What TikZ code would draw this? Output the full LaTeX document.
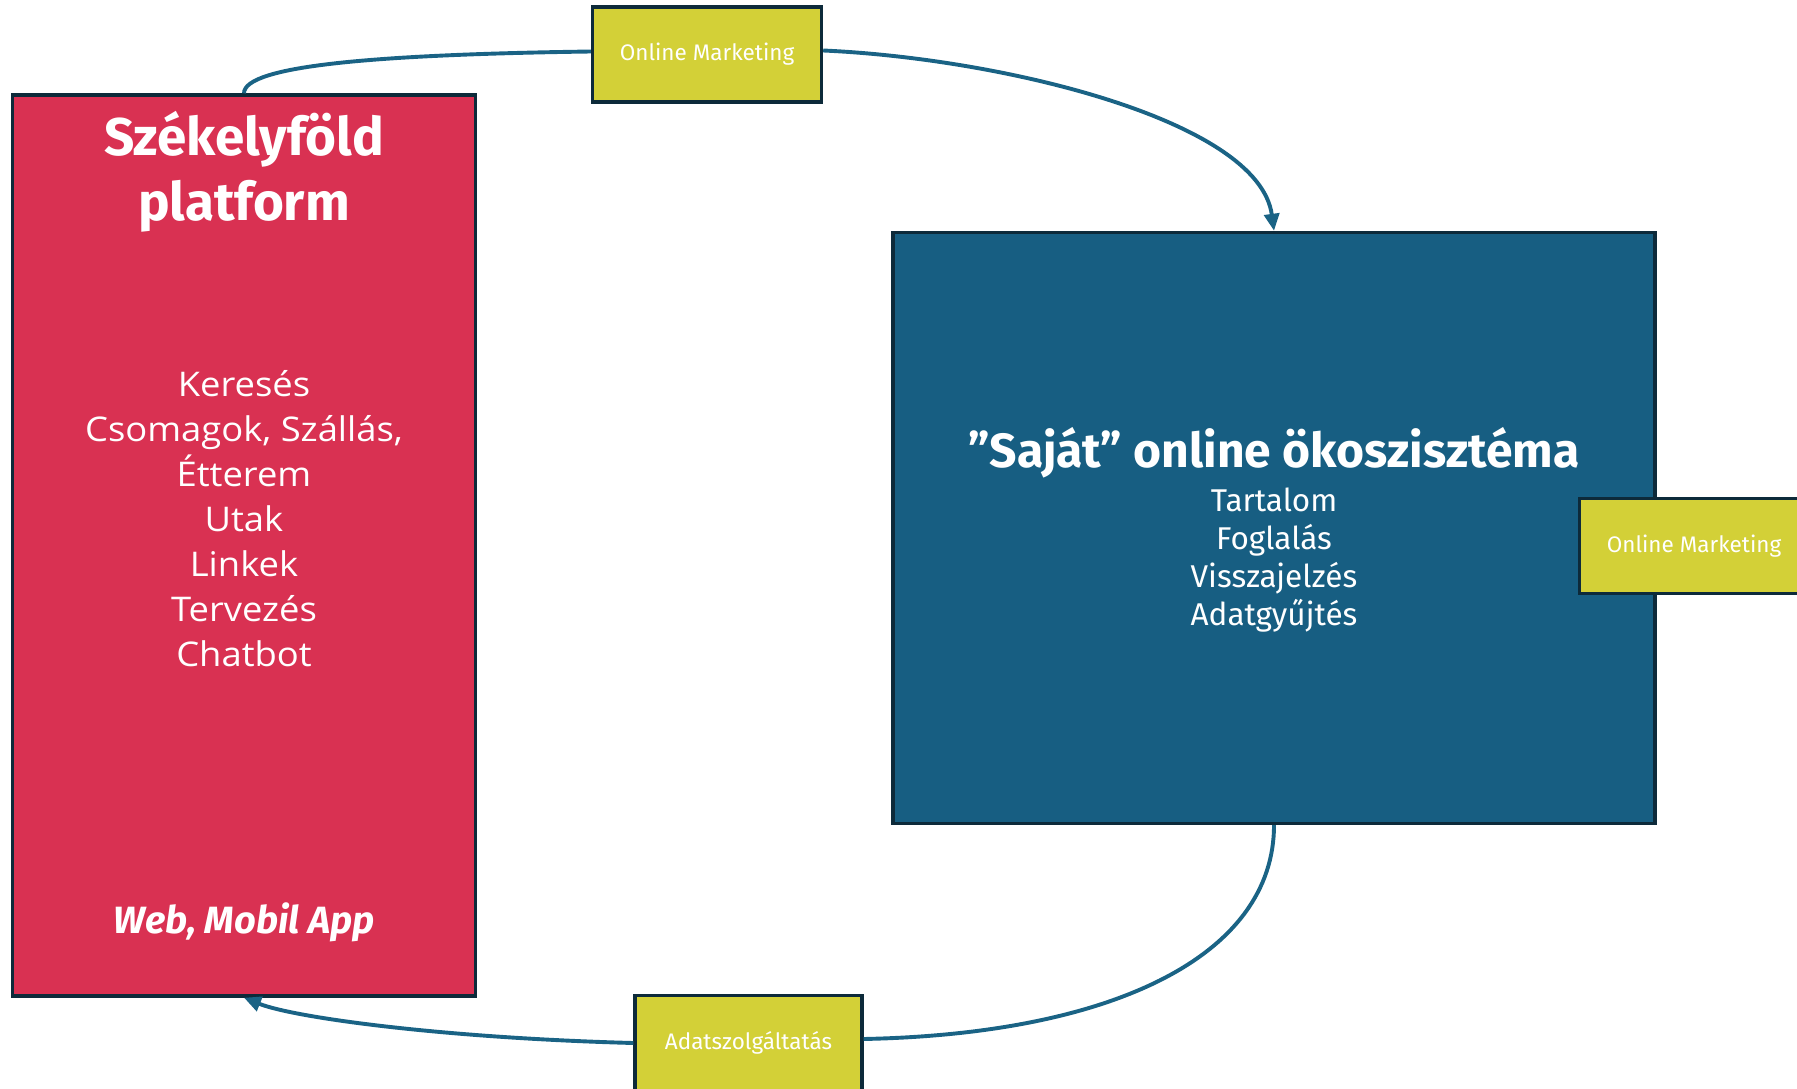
\documentclass[tikz,border=0pt]{standalone}
\usepackage{fontspec}
\setmainfont{Open Sans}
\newfontfamily\listfont[FakeStretch=1.07]{Open Sans}
\newfontfamily\condfont{Fira Sans}
\usetikzlibrary{arrows.meta}

\definecolor{platred}{HTML}{D93152}
\definecolor{ecoblue}{HTML}{175E82}
\definecolor{tagyellow}{HTML}{D3D037}
\definecolor{edgedark}{HTML}{0D2A3A}
\definecolor{flowblue}{HTML}{1A6385}

\tikzset{
  panel/.style={draw=edgedark, line width=3.4pt, inner sep=0pt},
  tag/.style={panel, fill=tagyellow, minimum width=229pt, minimum height=95pt,
    text=white, font=\condfont\fontsize{22.5}{27}\selectfont},
  label/.style={text=white, align=center, inner sep=0pt},
  flow/.style={draw=flowblue, line width=3.9pt},
  tip/.style={-{Triangle[length=17pt,width=15pt]}}
}

\begin{document}
\begin{tikzpicture}[x=1pt,y=1pt]
  \useasboundingbox (0,0) rectangle (1797,-1089);

  % main panels
  \node[panel, fill=platred, minimum width=463pt, minimum height=901pt] (plat) at (244,-545.5) {};
  \node[panel, fill=ecoblue, minimum width=762pt, minimum height=591pt] (eco) at (1274,-528) {};

  % platform texts
  \node[label, font=\condfont\bfseries\fontsize{53}{65}\selectfont] (plattitle) at (244,-172) {Székelyföld\\platform};
  \node[label, font=\listfont\fontsize{34}{45}\selectfont] (platlist) at (244,-519)
    {Keresés\\Csomagok, Szállás,\\Étterem\\Utak\\Linkek\\Tervezés\\Chatbot};
  \node[label, font=\condfont\bfseries\itshape\fontsize{38}{44}\selectfont] (platweb) at (244,-922) {Web, Mobil App};

  % ecosystem texts
  \node[label, font=\condfont\bfseries\fontsize{48}{56}\selectfont] (ecotitle) at (1274,-453) {”Saját” online ökoszisztéma};
  \node[label, font=\condfont\fontsize{31.5}{38}\selectfont] (ecolist) at (1274,-560)
    {Tartalom\\Foglalás\\Visszajelzés\\Adatgyűjtés};

  % channel tags
  \node[tag] (mktop) at (707,-54.5) {Online Marketing};
  \node[tag] (mkright) at (1694,-546) {Online Marketing};
  \node[tag, minimum width=227pt] (data) at (748.5,-1043) {Adatszolgáltatás};

  % flows
  \draw[flow] (plat.north) .. controls +(0,28) and +(-212,-3) .. ([yshift=3pt]mktop.west);
  \draw[flow, tip] ([yshift=4pt]mktop.east) .. controls +(180,-8) and +(-15,110) .. (eco.north);
  \draw[flow] (eco.south) .. controls +(0,-130) and +(250,5) .. ([yshift=4pt]data.east);
  \draw[flow, tip] ([yshift=0pt]data.west) .. controls +(-190,5) and +(50,-20) .. (plat.south);
\end{tikzpicture}
\end{document}
